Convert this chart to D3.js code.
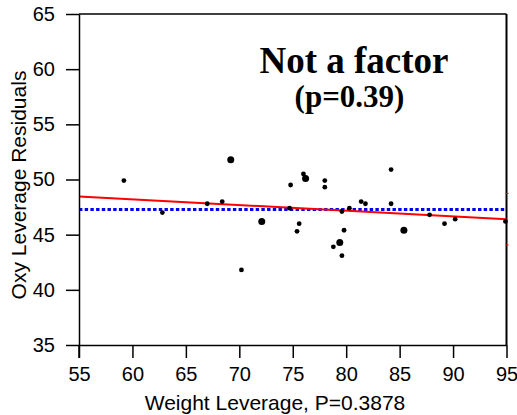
<!DOCTYPE html>
<html>
<head>
<meta charset="utf-8">
<script src="https://cdn.jsdelivr.net/npm/d3@7"></script>
<style>
  body { margin: 0; background: #fff; }
</style>
</head>
<body>
<div id="chart"></div>
<script>
// leverage plot values
const weightLev = [59.2, 62.8, 67.0, 68.4, 69.2, 70.2, 72.1, 74.8, 74.7, 76.0, 76.2, 75.6, 75.4,
  78.0, 78.0, 78.8, 79.4, 79.6, 79.8, 79.6, 80.3, 81.4, 81.8, 84.2, 84.2, 85.4, 87.8, 89.2, 90.2, 94.9];
const oxyResid = [49.9, 47.0, 47.8, 48.0, 51.8, 41.8, 46.2, 49.5, 47.4, 50.5, 50.1, 46.0, 45.3,
  49.9, 49.3, 43.9, 44.3, 43.1, 45.4, 47.1, 47.4, 48.0, 47.8, 50.9, 47.8, 45.4, 46.8, 46.0, 46.4, 46.2];
// overlapping observations (drawn as a heavier dot)
const overlap = [1, 1, 1, 1, 2, 1, 2, 1, 1, 1, 2, 1, 1,
  1, 1, 1, 2, 1, 1, 1, 1, 1, 1, 1, 1, 2, 1, 1, 1, 1];
const xTicks = [55, 60, 65, 70, 75, 80, 85, 90, 95];
const yTicks = [35, 40, 45, 50, 55, 60, 65];
const meanResid = 47.27;
const fitLine = [[55, 48.47], [95, 46.39]];
const ciEnds = [48.74, 44.07]; // confidence curve ends at x = 95

const sans = "'Liberation Sans', Arial, sans-serif";
const serif = "'Liberation Serif', 'Times New Roman', serif";

const margin = { top: 14, right: 10, bottom: 69, left: 79 };
const width = 517 - margin.left - margin.right;
const height = 415 - margin.top - margin.bottom;

const svg = d3.select("#chart")
  .append("svg")
  .attr("width", 517)
  .attr("height", 415)
  .append("g")
  .attr("transform", `translate(${margin.left},${margin.top})`);

const x = d3.scaleLinear().domain([55, 95]).range([0, width - 0.5]);
const y = d3.scaleLinear().domain([35, 65]).range([height - 1, 0]);

// frame top/right
svg.append("line").attr("x1", 0).attr("x2", x(95)).attr("y1", 0).attr("y2", 0)
  .attr("stroke", "#000").attr("stroke-width", 1.5);
svg.append("line").attr("x1", x(95)).attr("x2", x(95)).attr("y1", 0).attr("y2", y(35))
  .attr("stroke", "#000").attr("stroke-width", 2);

// mean line (blue dotted)
svg.append("line")
  .attr("x1", x(55)).attr("x2", x(95))
  .attr("y1", y(meanResid)).attr("y2", y(meanResid))
  .attr("stroke", "#0000ee").attr("stroke-width", 3)
  .attr("stroke-dasharray", "3.4,2.3");

// fitted line
svg.append("line")
  .attr("x1", x(fitLine[0][0])).attr("y1", y(fitLine[0][1]))
  .attr("x2", x(fitLine[1][0])).attr("y2", y(fitLine[1][1]))
  .attr("stroke", "#ff0000").attr("stroke-width", 2);

svg.selectAll(".ci")
  .data(ciEnds)
  .enter()
  .append("line")
  .attr("x1", x(95) - 1).attr("x2", x(95) + 2)
  .attr("y1", (d) => y(d)).attr("y2", (d) => y(d))
  .attr("stroke", "#ff0000").attr("stroke-width", 1);

// points
svg.selectAll(".pt")
  .data(weightLev.map((w, i) => ({ w: w, r: oxyResid[i], n: overlap[i] })))
  .enter()
  .append("circle")
  .attr("class", "pt")
  .attr("cx", (d) => x(d.w))
  .attr("cy", (d) => y(d.r))
  .attr("r", (d) => d.n > 1 ? 3.5 : 2.4)
  .attr("fill", "#000");

// axes
const xAxis = svg.append("g")
  .attr("transform", `translate(0,${y(35)})`)
  .call(d3.axisBottom(x).tickValues(xTicks).tickSize(13).tickPadding(9).tickSizeOuter(0));
const yAxis = svg.append("g")
  .call(d3.axisLeft(y).tickValues(yTicks).tickSize(13).tickPadding(11).tickSizeOuter(0));

[xAxis, yAxis].forEach((g) => {
  g.select(".domain").attr("stroke-width", 1.5);
  g.selectAll(".tick line").attr("stroke-width", 1.5);
  g.selectAll(".tick text")
    .style("font-family", sans)
    .style("font-size", "20px")
    .attr("fill", "#000");
});
// extend left axis down through the 55 tick
svg.append("line").attr("x1", 0).attr("x2", 0).attr("y1", y(35)).attr("y2", y(35) + 13)
  .attr("stroke", "#000").attr("stroke-width", 1.5);

// axis titles
svg.append("text")
  .attr("x", 196).attr("y", 396)
  .attr("text-anchor", "middle")
  .style("font-family", sans)
  .style("font-size", "21px")
  .text("Weight Leverage, P=0.3878");

svg.append("text")
  .attr("transform", `translate(-53,${171}) rotate(-90)`)
  .attr("text-anchor", "middle")
  .style("font-family", sans)
  .style("font-size", "21px")
  .text("Oxy Leverage Residuals");

// annotation
svg.append("text")
  .attr("x", 275).attr("y", 59)
  .attr("text-anchor", "middle")
  .style("font-family", serif)
  .style("font-weight", "bold")
  .style("font-size", "37px")
  .text("Not a factor");
svg.append("text")
  .attr("x", 270.5).attr("y", 93)
  .attr("text-anchor", "middle")
  .style("font-family", serif)
  .style("font-weight", "bold")
  .style("font-size", "31px")
  .text("(p=0.39)");
</script>
</body>
</html>
